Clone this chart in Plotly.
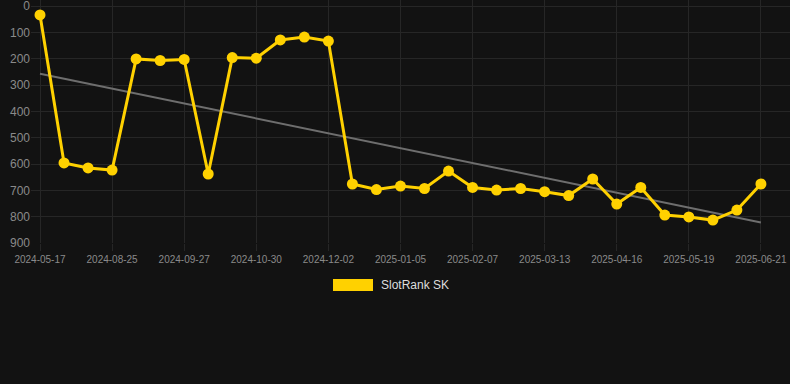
import numpy as np
import plotly.graph_objects as go

dates = [
    "2024-05-17", "2024-08-03", "2024-08-14", "2024-08-25", "2024-09-05", "2024-09-16",
    "2024-09-27", "2024-10-08", "2024-10-19", "2024-10-30", "2024-11-10", "2024-11-21",
    "2024-12-02", "2024-12-13", "2024-12-24", "2025-01-05", "2025-01-16", "2025-01-27",
    "2025-02-07", "2025-02-18", "2025-03-02", "2025-03-13", "2025-03-24", "2025-04-05",
    "2025-04-16", "2025-04-27", "2025-05-08", "2025-05-19", "2025-05-30", "2025-06-10",
    "2025-06-21",
]
ranks = [
    34, 596, 615, 623, 201, 207, 203, 638, 196, 198, 129, 118, 133,
    676, 697, 684, 693, 627, 689, 699, 693, 705, 720, 657, 752, 689,
    794, 801, 813, 775, 676,
]
tick_labels = dates[::3]
series_name = "SlotRank SK"

# linear trend
idx = np.arange(len(ranks))
slope, intercept = np.polyfit(idx, ranks, 1)
trend = [intercept, intercept + slope * (len(ranks) - 1)]

BG = "#121212"
GOLD = "#FFD100"
GRID = "#262626"
TXT = "#8a8a8a"
FONT = "Liberation Sans, Arial, sans-serif"

fig = go.Figure()
fig.add_trace(go.Scatter(
    x=[dates[0], dates[-1]], y=trend, mode="lines",
    line=dict(color="#6e6e6e", width=2), showlegend=False, hoverinfo="skip",
))
fig.add_trace(go.Scatter(
    x=dates, y=ranks, mode="lines+markers", name=series_name,
    line=dict(color=GOLD, width=3),
    marker=dict(color=GOLD, size=11),
    showlegend=False, cliponaxis=False,
))

fig.update_layout(
    width=790, height=384,
    paper_bgcolor=BG, plot_bgcolor=BG,
    margin=dict(l=31, r=0, t=0, b=141),
    font=dict(family=FONT, color=TXT),
    xaxis=dict(
        type="category", categoryorder="array", categoryarray=dates,
        range=[-0.3745, 31.21],
        tickmode="array", tickvals=tick_labels, ticktext=tick_labels,
        showgrid=True, gridcolor=GRID, gridwidth=1,
        ticks="outside", ticklen=7, tickcolor=GRID,
        tickfont=dict(size=10, color=TXT, family=FONT),
        zeroline=False, showline=False,
    ),
    yaxis=dict(
        range=[900, -22.8],
        tickmode="array", tickvals=list(range(0, 901, 100)),
        showgrid=True, gridcolor=GRID, gridwidth=1,
        tickfont=dict(size=12, color=TXT, family=FONT),
        ticklabeloverflow="allow",
        ticks="", zeroline=False, showline=False,
    ),
    shapes=[dict(
        type="rect", xref="paper", yref="paper",
        x0=(333 - 31) / 759, x1=(373 - 31) / 759,
        y0=(243 - 291) / 243, y1=(243 - 279) / 243,
        fillcolor=GOLD, line=dict(width=0),
    )],
    annotations=[dict(
        text=series_name, xref="paper", yref="paper",
        x=(379 - 31) / 759, y=(243 - 285) / 243,
        xanchor="left", yanchor="middle", showarrow=False,
        font=dict(size=12, color="#dddddd", family=FONT),
    )],
)

fig.write_html("out.html")
